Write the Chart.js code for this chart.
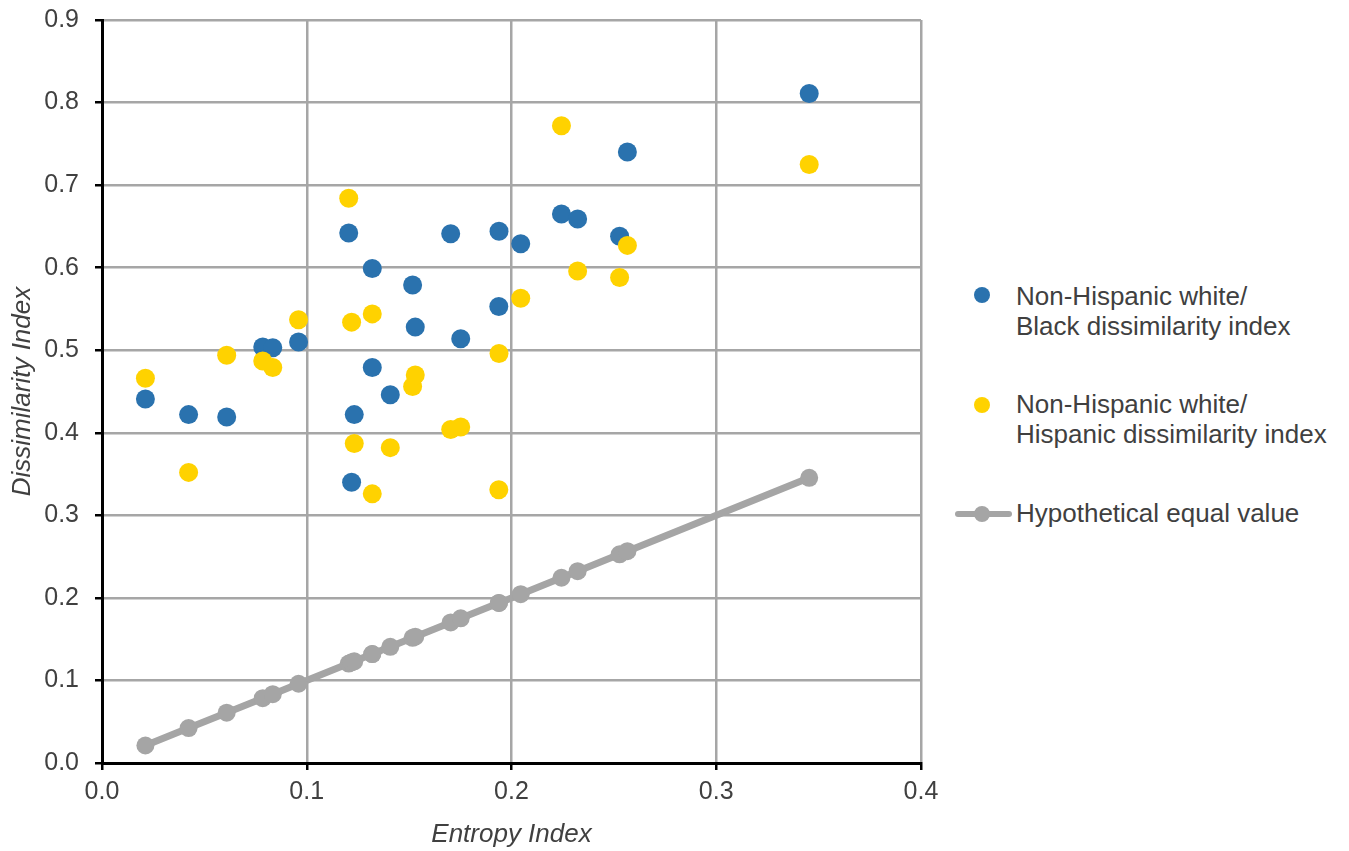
<!DOCTYPE html>
<html>
<head>
<meta charset="utf-8">
<script src="https://cdn.jsdelivr.net/npm/chart.js@4.4.1/dist/chart.umd.min.js"></script>
<style>
  body { margin: 0; background: #fff; font-family: "Liberation Sans", Arial, sans-serif; overflow: hidden; }
  #wrap { position: absolute; left: 0; top: 0; width: 940px; height: 851px; }
  .legend-item { position: absolute; left: 955px; font-size: 26px; line-height: 30px; color: #404040; }
  .legend-item .txt { position: absolute; left: 61px; top: 0; white-space: nowrap; }
  .dot { position: absolute; width: 16px; height: 16px; border-radius: 50%; left: 19px; }
</style>
</head>
<body>
<div id="wrap"><canvas id="chart" width="940" height="851"></canvas></div>

<div class="legend-item" style="top:281px;">
  <span class="dot" style="background:#2a72ae; top:6px;"></span>
  <div class="txt">Non-Hispanic white/<br>Black dissimilarity index</div>
</div>
<div class="legend-item" style="top:389px;">
  <span class="dot" style="background:#ffd200; top:8px;"></span>
  <div class="txt">Non-Hispanic white/<br>Hispanic dissimilarity index</div>
</div>
<div class="legend-item" style="top:498px;">
  <span style="position:absolute; left:0; top:13px; width:57px; height:6px; background:#a5a5a5; border-radius:3px;"></span>
  <span class="dot" style="background:#a5a5a5; top:8px;"></span>
  <div class="txt">Hypothetical equal value</div>
</div>

<script>
// Entropy index for each metro area (shared x values)
const entropy = [0.0212, 0.0423, 0.0609, 0.0785, 0.0834, 0.096, 0.1205, 0.1219, 0.1232, 0.132, 0.132, 0.1408,
                 0.1517, 0.153, 0.1703, 0.1752, 0.1938, 0.1939, 0.2045, 0.2244, 0.2323, 0.2528, 0.2566, 0.3454];

// Non-Hispanic white / Black dissimilarity index
const blackDissim = [0.441, 0.422, 0.419, 0.504, 0.503, 0.510, 0.642, 0.340, 0.422, 0.599, 0.479, 0.446,
                     0.579, 0.528, 0.641, 0.514, 0.553, 0.644, 0.629, 0.665, 0.659, 0.638, 0.740, 0.811];

// Non-Hispanic white / Hispanic dissimilarity index
const hispDissim = [0.466, 0.352, 0.494, 0.487, 0.479, 0.537, 0.684, 0.534, 0.387, 0.544, 0.326, 0.382,
                    0.456, 0.470, 0.404, 0.407, 0.331, 0.496, 0.563, 0.772, 0.596, 0.588, 0.627, 0.725];

const xTicks = [0, 0.1, 0.2, 0.3, 0.4];
const yTicks = [0, 0.1, 0.2, 0.3, 0.4, 0.5, 0.6, 0.7, 0.8, 0.9];

const toPoints = (ys) => entropy.map((x, i) => ({ x: x, y: ys[i] }));
const equalLine = entropy.map((x) => ({ x: x, y: x })); // y = x reference line

const tickFont = { family: '"Liberation Sans", Arial, sans-serif', size: 25 };
const titleFont = { family: '"Liberation Sans", Arial, sans-serif', size: 26, style: 'italic' };

// keep tick label overflow from pushing the plot area around
function noScalePadding(scale) {
    scale.paddingTop = 0;
    scale.paddingBottom = 0;
    scale.paddingLeft = 0;
    scale.paddingRight = 0;
}

new Chart(document.getElementById('chart'), {
    type: 'scatter',
    data: {
        datasets: [
            {
                label: 'Non-Hispanic white/Hispanic dissimilarity index',
                data: toPoints(hispDissim),
                backgroundColor: '#ffd200',
                borderWidth: 0,
                pointRadius: 9.5,
                order: 1
            },
            {
                label: 'Non-Hispanic white/Black dissimilarity index',
                data: toPoints(blackDissim),
                backgroundColor: '#2a72ae',
                borderWidth: 0,
                pointRadius: 9.5,
                order: 2
            },
            {
                label: 'Hypothetical equal value',
                data: equalLine,
                showLine: true,
                borderColor: '#a5a5a5',
                backgroundColor: '#a5a5a5',
                borderWidth: 7,
                pointRadius: 9,
                pointBorderWidth: 0,
                order: 3
            }
        ]
    },
    options: {
        responsive: false,
        animation: false,
        layout: { padding: { top: 20, right: 19, left: 0, bottom: 0 } },
        plugins: {
            legend: { display: false },
            tooltip: { enabled: false }
        },
        scales: {
            x: {
                type: 'linear',
                min: 0,
                max: 0.4,
                afterBuildTicks: (scale) => { scale.ticks = xTicks.map((v) => ({ value: v })); },
                afterFit: (scale) => { scale.height = 88; noScalePadding(scale); },
                ticks: {
                    font: tickFont,
                    color: '#404040',
                    padding: 7,
                    maxRotation: 0,
                    callback: (v) => v.toFixed(1)
                },
                grid: { color: '#a6a6a6', lineWidth: 2.5, tickColor: '#000', tickLength: 7 },
                border: { color: '#000', width: 3 },
                title: { display: true, text: 'Entropy Index', font: titleFont, color: '#404040', padding: { top: 0, bottom: 1 } }
            },
            y: {
                type: 'linear',
                min: 0,
                max: 0.9,
                afterBuildTicks: (scale) => { scale.ticks = yTicks.map((v) => ({ value: v })); },
                afterFit: (scale) => { scale.width = 102; noScalePadding(scale); },
                ticks: {
                    font: tickFont,
                    color: '#404040',
                    padding: 16,
                    callback: (v) => v.toFixed(1)
                },
                grid: { color: '#a6a6a6', lineWidth: 2.5, tickColor: '#000', tickLength: 7 },
                border: { color: '#000', width: 3 },
                title: { display: true, text: 'Dissimilarity Index', font: titleFont, color: '#404040', padding: { top: 7, bottom: 0 } }
            }
        }
    }
});
</script>
</body>
</html>
